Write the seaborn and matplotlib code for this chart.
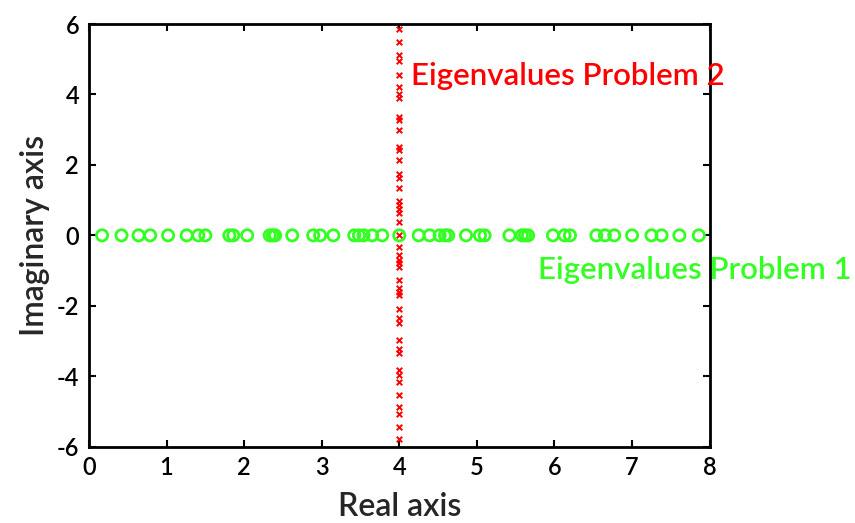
import matplotlib
matplotlib.use("Agg")
import matplotlib.pyplot as plt
import seaborn as sns
import pandas as pd
import numpy as np

# Problem 1 eigenvalues (real, on imaginary = 0)
p1_real = [0.17, 0.42, 0.64, 0.79, 1.02, 1.26, 1.41, 1.50, 1.81, 1.86, 2.04,
           2.33, 2.37, 2.40, 2.62, 2.89, 2.98, 3.15, 3.42, 3.48, 3.54, 3.65,
           3.78, 4.00, 4.25, 4.39, 4.52, 4.59, 4.63, 4.86, 5.04, 5.10, 5.42,
           5.58, 5.62, 5.66, 5.98, 6.13, 6.20, 6.54, 6.65, 6.77, 7.00, 7.25,
           7.38, 7.61, 7.86]
p1_imag = [0.0] * len(p1_real)

# Problem 2 eigenvalues (real part 4)
p2_imag = [5.86, 5.49, 5.12, 4.94, 4.56, 4.22, 4.02, 3.89, 3.37, 3.28, 2.99,
           2.52, 2.43, 2.14, 1.74, 1.62, 1.34, 0.98, 0.86, 0.75, 0.63, 0.39,
           0.0, -0.34, -0.56, -0.70, -0.79, -0.89, -1.27, -1.50, -1.60, -1.69,
           -2.10, -2.36, -2.48, -2.97, -3.24, -3.33, -3.82, -3.97, -4.17,
           -4.53, -4.87, -5.07, -5.45, -5.79]
p2_real = [4.0] * len(p2_imag)

x_ticks = [0, 1, 2, 3, 4, 5, 6, 7, 8]
y_ticks = [-6, -4, -2, 0, 2, 4, 6]

sns.set_theme(style="white")
plt.rcParams['font.family'] = ['Lato', 'DejaVu Sans']

df1 = pd.DataFrame({"re": p1_real, "im": p1_imag})
df2 = pd.DataFrame({"re": p2_real, "im": p2_imag})

fig = plt.figure(figsize=(8.55, 5.23), dpi=100)
ax = fig.add_axes([0.104, 0.146, 0.726, 0.808])

sns.scatterplot(data=df1, x="re", y="im", ax=ax, marker="o", s=65,
                facecolors="none", edgecolor="#33ff22", linewidth=2.0, zorder=3)
sns.scatterplot(data=df2, x="re", y="im", ax=ax, marker="x", s=16,
                color="#ff0000", linewidth=1.4, zorder=4)

ax.set_xlim(0, 8)
ax.set_ylim(-6, 6)
ax.set_xticks(x_ticks)
ax.set_yticks(y_ticks)
ax.set_xticklabels([str(t) for t in x_ticks])
ax.set_yticklabels([str(t) for t in y_ticks])
ax.tick_params(direction="in", length=5, width=1.5, top=True, right=True,
               bottom=True, left=True, labelsize=17, colors="black", pad=7)
for lab in ax.get_xticklabels() + ax.get_yticklabels():
    lab.set_fontweight("semibold")
for sp in ax.spines.values():
    sp.set_color("black")
    sp.set_linewidth(2)
ax.grid(False)

ax.set_xlabel("Real axis", fontsize=23, fontweight="semibold", labelpad=9)
ax.set_ylabel("Imaginary axis", fontsize=23, fontweight="semibold", labelpad=5)

ax.text(4.15, 4.53, "Eigenvalues Problem 2", color="#ff0000", fontsize=22.5,
        fontweight="semibold", ha="left", va="center", clip_on=False)
ax.text(5.79, -0.98, "Eigenvalues Problem 1", color="#33ff22", fontsize=22.5,
        fontweight="semibold", ha="left", va="center", clip_on=False)

fig.savefig("out.png", dpi=100)
